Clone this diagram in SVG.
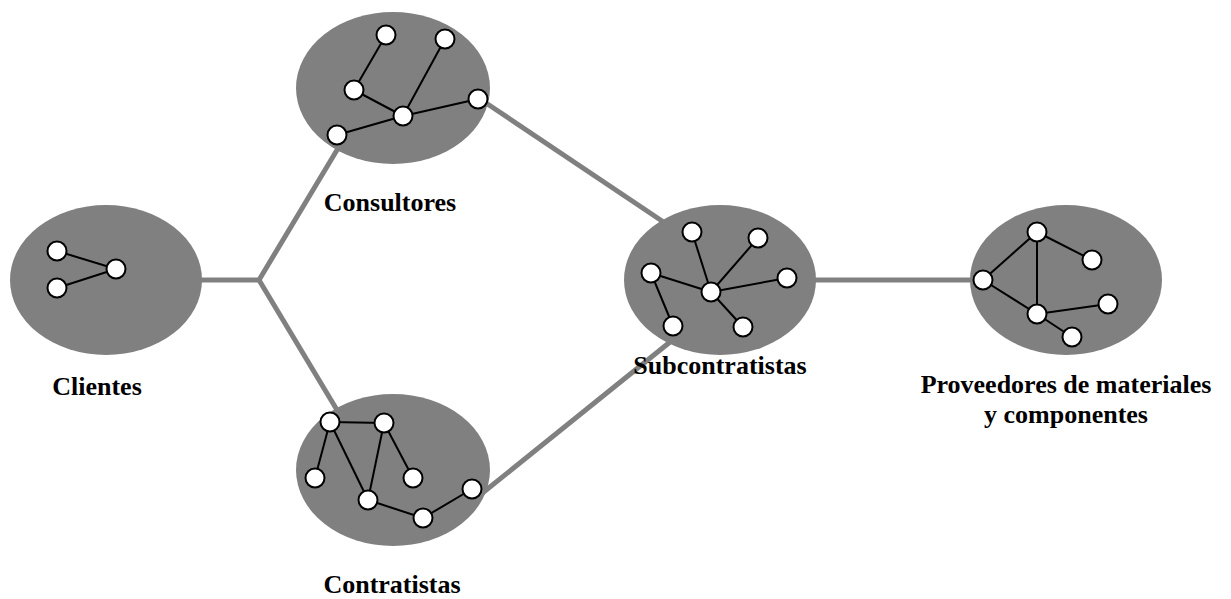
<svg xmlns="http://www.w3.org/2000/svg" width="1231" height="599" viewBox="0 0 1231 599">
  <style>
    .link { stroke: #808080; stroke-width: 5; fill: none; }
    .blob { fill: #808080; }
    .edge { stroke: #000; stroke-width: 2; }
    .pt { fill: #fff; stroke: #000; stroke-width: 2; }
    .lbl { font-family: 'Liberation Serif', Tinos, 'Times New Roman', Times, 'DejaVu Serif', serif; font-weight: 700; font-size: 26px; fill: #000; text-anchor: middle; }
  </style>
  <rect width="1231" height="599" fill="#fff"/>

  <!-- connectors between groups -->
  <g id="connectors">
    <polyline class="link" points="190,280 259,280 340,145"/>
    <line class="link" x1="259" y1="280" x2="340" y2="415"/>
    <line class="link" x1="480" y1="99" x2="668" y2="225"/>
    <line class="link" x1="480" y1="495" x2="675" y2="338"/>
    <line class="link" x1="810" y1="280" x2="980" y2="280"/>
  </g>

  <g id="clientes">
    <ellipse class="blob" cx="106" cy="280" rx="96" ry="75"/>
    <line class="edge" x1="57" y1="251" x2="116" y2="269"/>
    <line class="edge" x1="57" y1="288" x2="116" y2="269"/>
    <circle class="pt" cx="57" cy="251" r="9.5"/>
    <circle class="pt" cx="57" cy="288" r="9.5"/>
    <circle class="pt" cx="116" cy="269" r="9.5"/>
    <text class="lbl" x="97" y="395" font-family="Liberation Serif, serif">Clientes</text>
  </g>

  <g id="consultores">
    <ellipse class="blob" cx="393" cy="88" rx="97" ry="76"/>
    <line class="edge" x1="386" y1="35" x2="354" y2="90"/>
    <line class="edge" x1="354" y1="90" x2="403" y2="116"/>
    <line class="edge" x1="445" y1="39" x2="403" y2="116"/>
    <line class="edge" x1="337" y1="135" x2="403" y2="116"/>
    <line class="edge" x1="403" y1="116" x2="478" y2="99"/>
    <circle class="pt" cx="386" cy="35" r="9.5"/>
    <circle class="pt" cx="445" cy="39" r="9.5"/>
    <circle class="pt" cx="354" cy="90" r="9.5"/>
    <circle class="pt" cx="403" cy="116" r="9.5"/>
    <circle class="pt" cx="478" cy="99" r="9.5"/>
    <circle class="pt" cx="337" cy="135" r="9.5"/>
    <text class="lbl" x="390" y="211">Consultores</text>
  </g>

  <g id="contratistas">
    <ellipse class="blob" cx="393" cy="470" rx="97" ry="76"/>
    <line class="edge" x1="330" y1="422" x2="384" y2="423"/>
    <line class="edge" x1="330" y1="422" x2="315" y2="478"/>
    <line class="edge" x1="330" y1="422" x2="368" y2="500"/>
    <line class="edge" x1="384" y1="423" x2="368" y2="500"/>
    <line class="edge" x1="384" y1="423" x2="413" y2="478"/>
    <line class="edge" x1="368" y1="500" x2="423" y2="518"/>
    <line class="edge" x1="423" y1="518" x2="472" y2="489"/>
    <circle class="pt" cx="330" cy="422" r="9.5"/>
    <circle class="pt" cx="384" cy="423" r="9.5"/>
    <circle class="pt" cx="315" cy="478" r="9.5"/>
    <circle class="pt" cx="413" cy="478" r="9.5"/>
    <circle class="pt" cx="368" cy="500" r="9.5"/>
    <circle class="pt" cx="423" cy="518" r="9.5"/>
    <circle class="pt" cx="472" cy="489" r="9.5"/>
    <text class="lbl" x="392" y="593">Contratistas</text>
  </g>

  <g id="subcontratistas">
    <ellipse class="blob" cx="720" cy="280" rx="96" ry="75"/>
    <line class="edge" x1="711" y1="292" x2="692" y2="232"/>
    <line class="edge" x1="711" y1="292" x2="758" y2="238"/>
    <line class="edge" x1="711" y1="292" x2="651" y2="273"/>
    <line class="edge" x1="711" y1="292" x2="787" y2="278"/>
    <line class="edge" x1="711" y1="292" x2="743" y2="327"/>
    <line class="edge" x1="651" y1="273" x2="673" y2="326"/>
    <circle class="pt" cx="692" cy="232" r="9.5"/>
    <circle class="pt" cx="758" cy="238" r="9.5"/>
    <circle class="pt" cx="651" cy="273" r="9.5"/>
    <circle class="pt" cx="787" cy="278" r="9.5"/>
    <circle class="pt" cx="711" cy="292" r="9.5"/>
    <circle class="pt" cx="673" cy="326" r="9.5"/>
    <circle class="pt" cx="743" cy="327" r="9.5"/>
    <text class="lbl" x="720" y="374">Subcontratistas</text>
  </g>

  <g id="proveedores">
    <ellipse class="blob" cx="1066" cy="280" rx="96" ry="75"/>
    <line class="edge" x1="1037" y1="232" x2="983" y2="280"/>
    <line class="edge" x1="1037" y1="232" x2="1037" y2="314"/>
    <line class="edge" x1="1037" y1="232" x2="1092" y2="260"/>
    <line class="edge" x1="983" y1="280" x2="1037" y2="314"/>
    <line class="edge" x1="1037" y1="314" x2="1108" y2="304"/>
    <line class="edge" x1="1037" y1="314" x2="1072" y2="337"/>
    <circle class="pt" cx="1037" cy="232" r="9.5"/>
    <circle class="pt" cx="1092" cy="260" r="9.5"/>
    <circle class="pt" cx="983" cy="280" r="9.5"/>
    <circle class="pt" cx="1037" cy="314" r="9.5"/>
    <circle class="pt" cx="1108" cy="304" r="9.5"/>
    <circle class="pt" cx="1072" cy="337" r="9.5"/>
    <text class="lbl" x="1066" y="393">Proveedores de materiales</text>
    <text class="lbl" x="1066" y="423">y componentes</text>
  </g>
</svg>
